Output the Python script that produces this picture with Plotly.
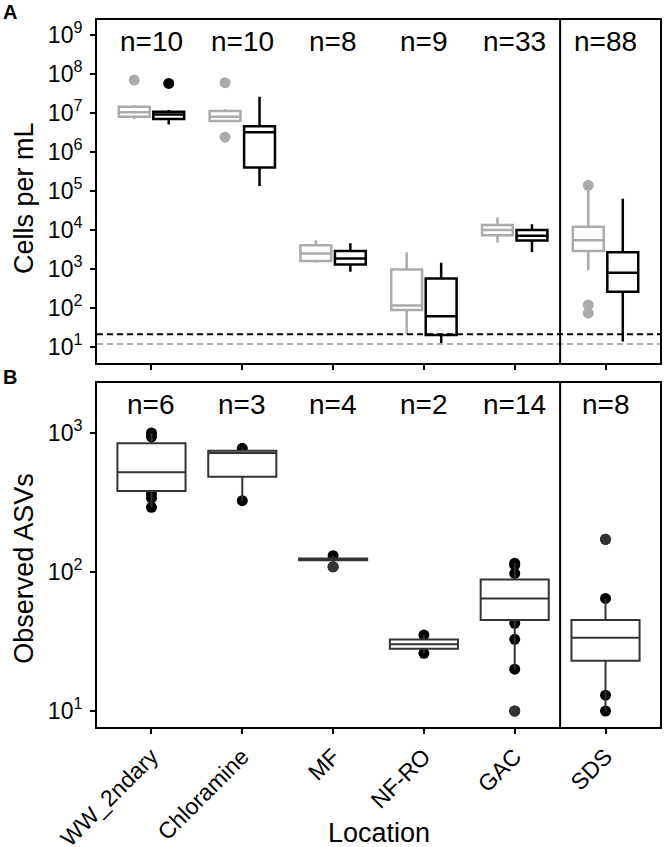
import plotly.graph_objects as go

FONT = "Liberation Sans, Arial, sans-serif"

# ---------------- data ----------------
locations = ["WW_2ndary", "Chloramine", "MF", "NF-RO", "GAC", "SDS"]
n_cells = [10, 10, 8, 9, 33, 88]
n_asv = [6, 3, 4, 2, 14, 8]

# Panel A - cells per mL, grey series (box statistics per location)
a_grey_q1 = [8.0e6, 6.2e6, 1600, 89, 7400, 2900]
a_grey_med = [1.04e7, 8.0e6, 2500, 117, 10000, 5500]
a_grey_q3 = [1.45e7, 1.12e7, 4100, 980, 13500, 12200]
a_grey_lo = [7.0e6, 6.0e6, 1450, 21, 4800, 930]
a_grey_hi = [1.6e7, 1.26e7, 5500, 2700, 21000, 1.1e5]
a_grey_out_loc = ["WW_2ndary", "Chloramine", "Chloramine", "SDS", "SDS", "SDS"]
a_grey_out_val = [7.0e7, 6.0e7, 2.4e6, 1.4e5, 120, 74]

# Panel A - black series
a_black_q1 = [7.0e6, 4.0e5, 1300, 20.4, 5400, 263]
a_black_med = [9.2e6, 3.2e6, 1850, 62, 7100, 800]
a_black_q3 = [1.08e7, 4.6e6, 2900, 575, 10000, 2700]
a_black_lo = [5.1e6, 1.35e5, 850, 12.3, 2750, 13.8]
a_black_hi = [1.19e7, 2.6e7, 4600, 1450, 14000, 63000]
a_black_out_loc = ["WW_2ndary"]
a_black_out_val = [5.75e7]

# detection limits (dashed lines)
limit_black = 21.4
limit_grey = 12.0

# Panel B - observed ASVs
b_q1 = [383, 485, 121.6, 28.1, 45.2, 23.0]
b_med = [521, 718, 123.3, 30.2, 64.6, 33.6]
b_q3 = [843, 746, 125.0, 32.7, 88.5, 45.2]
b_lo = [292, 326, 121.6, 26.0, 20.0, 10.0]
b_hi = [1000, 776, 131, 35.2, 115.6, 64.6]
b_pts_loc = ["WW_2ndary", "WW_2ndary", "WW_2ndary", "WW_2ndary", "WW_2ndary",
             "Chloramine", "Chloramine",
             "MF", "MF",
             "NF-RO", "NF-RO",
             "GAC", "GAC", "GAC", "GAC", "GAC", "GAC", "GAC",
             "SDS", "SDS", "SDS", "SDS"]
b_pts_val = [1000, 940, 365, 340, 292,
             776, 326,
             131, 109,
             35.2, 26.0,
             115.6, 112, 97.7, 42.8, 32.8, 20.0, 10.0,
             64.6, 13.0, 10.0, 172]
b_out_loc = ["MF", "GAC", "SDS"]
b_out_val = [109, 10.0, 172]

# ---------------- figure ----------------
pos = {loc: i + 1 for i, loc in enumerate(locations)}
xs = [pos[l] for l in locations]
OFF = 0.19
GREY = "#ABABAB"
DARK = "#333333"

fig = go.Figure()

# panel B raw points (drawn first so boxes cover them)
fig.add_trace(go.Box(
    x=[pos[l] for l in b_pts_loc], y=b_pts_val, xaxis="x2", yaxis="y2",
    boxpoints="all", jitter=0, pointpos=0, width=0.75,
    line=dict(width=0, color="rgba(0,0,0,0)"), fillcolor="rgba(0,0,0,0)",
    marker=dict(color="black", size=11), whiskerwidth=0, showlegend=False,
    hoverinfo="skip"))

# panel A boxes
fig.add_trace(go.Box(
    x=[x - OFF for x in xs], q1=a_grey_q1, median=a_grey_med, q3=a_grey_q3,
    lowerfence=a_grey_lo, upperfence=a_grey_hi, width=0.34, boxpoints=False,
    whiskerwidth=0, line=dict(color=GREY, width=2.5), fillcolor="white",
    xaxis="x", yaxis="y", showlegend=False))
fig.add_trace(go.Box(
    x=[x + OFF for x in xs], q1=a_black_q1, median=a_black_med, q3=a_black_q3,
    lowerfence=a_black_lo, upperfence=a_black_hi, width=0.34, boxpoints=False,
    whiskerwidth=0, line=dict(color="black", width=2.5), fillcolor="white",
    xaxis="x", yaxis="y", showlegend=False))

# panel B boxes
fig.add_trace(go.Box(
    x=xs, q1=b_q1, median=b_med, q3=b_q3, lowerfence=b_lo, upperfence=b_hi,
    width=0.75, boxpoints=False, whiskerwidth=0,
    line=dict(color=DARK, width=2), fillcolor="white",
    xaxis="x2", yaxis="y2", showlegend=False))

# outliers
fig.add_trace(go.Scatter(
    x=[pos[l] - OFF for l in a_grey_out_loc], y=a_grey_out_val, mode="markers",
    marker=dict(color=GREY, size=11), xaxis="x", yaxis="y", showlegend=False))
fig.add_trace(go.Scatter(
    x=[pos[l] + OFF for l in a_black_out_loc], y=a_black_out_val, mode="markers",
    marker=dict(color="black", size=11), xaxis="x", yaxis="y", showlegend=False))
fig.add_trace(go.Scatter(
    x=[pos[l] for l in b_out_loc], y=b_out_val, mode="markers",
    marker=dict(color=DARK, size=11), xaxis="x2", yaxis="y2", showlegend=False))

# shapes: detection limits and separator
shapes = [
    dict(type="line", xref="x domain", x0=0, x1=1, yref="y", y0=limit_black, y1=limit_black,
         line=dict(color="black", width=2, dash="6px,4px")),
    dict(type="line", xref="x domain", x0=0, x1=1, yref="y", y0=limit_grey, y1=limit_grey,
         line=dict(color=GREY, width=2, dash="6px,4px")),
    dict(type="line", xref="x", x0=5.5, x1=5.5, yref="y domain", y0=0, y1=1,
         line=dict(color="black", width=2)),
    dict(type="line", xref="x2", x0=5.5, x1=5.5, yref="y2 domain", y0=0, y1=1,
         line=dict(color="black", width=2)),
]

annotations = []
for loc, n in zip(locations, n_cells):
    annotations.append(dict(x=pos[loc], xref="x", y=0.937, yref="y domain",
                            xanchor="center", yanchor="middle",
                            text=f"n={n}", showarrow=False, font=dict(size=28, color="black")))
for loc, n in zip(locations, n_asv):
    annotations.append(dict(x=pos[loc], xref="x2", y=0.936, yref="y2 domain",
                            xanchor="center", yanchor="middle",
                            text=f"n={n}", showarrow=False, font=dict(size=28, color="black")))
annotations += [
    dict(x=-0.13, xref="paper", y=0.748, yref="paper", text="Cells per mL", textangle=-90,
         xanchor="center", yanchor="middle",
         showarrow=False, font=dict(size=27, color="black")),
    dict(x=-0.13, xref="paper", y=0.225, yref="paper", text="Observed ASVs", textangle=-90,
         xanchor="center", yanchor="middle",
         showarrow=False, font=dict(size=27, color="black")),
    dict(x=0.5, xref="paper", y=-0.15, yref="paper", text="Location",
         xanchor="center", yanchor="middle",
         showarrow=False, font=dict(size=27, color="black")),
    dict(x=-0.155, xref="paper", y=1.011, yref="paper", text="<b>A</b>",
         xanchor="center", yanchor="middle",
         showarrow=False, font=dict(size=20, color="black")),
    dict(x=-0.155, xref="paper", y=0.495, yref="paper", text="<b>B</b>",
         xanchor="center", yanchor="middle",
         showarrow=False, font=dict(size=20, color="black")),
]

axis_common = dict(showline=True, mirror=True, linecolor="black", linewidth=2,
                   ticks="outside", ticklen=5, tickwidth=2, tickcolor="black",
                   showgrid=False, zeroline=False, automargin=False)

fig.update_layout(
    width=664, height=847,
    margin=dict(l=97, r=4, t=20, b=120),
    paper_bgcolor="white", plot_bgcolor="white",
    font=dict(family=FONT, color="black"),
    showlegend=False,
    boxmode="overlay",
    xaxis=dict(domain=[0, 1], range=[0.4, 6.6], anchor="y", tickvals=xs,
               showticklabels=False, **axis_common),
    yaxis=dict(domain=[0.5148, 1], type="log", range=[0.59, 9.385], anchor="x",
               tickvals=[10 ** k for k in range(1, 10)], ticklabelstandoff=3,
               tickfont=dict(size=23, color="black"),
               ticktext=[f"10<sup>{k}</sup>" for k in range(1, 10)], **axis_common),
    xaxis2=dict(domain=[0, 1], range=[0.4, 6.6], anchor="y2", tickvals=xs,
                tickfont=dict(size=23, color="black"),
                ticktext=locations, tickangle=-45, **axis_common),
    yaxis2=dict(domain=[0, 0.4866], type="log", range=[0.885, 3.36], anchor="x2",
                tickvals=[10 ** k for k in range(1, 4)], ticklabelstandoff=3,
                tickfont=dict(size=23, color="black"),
                ticktext=[f"10<sup>{k}</sup>" for k in range(1, 4)], **axis_common),
    shapes=shapes,
    annotations=annotations,
)

fig.write_html("out.html", config={"displayModeBar": False},
               post_script="document.body.style.margin='0px';")
